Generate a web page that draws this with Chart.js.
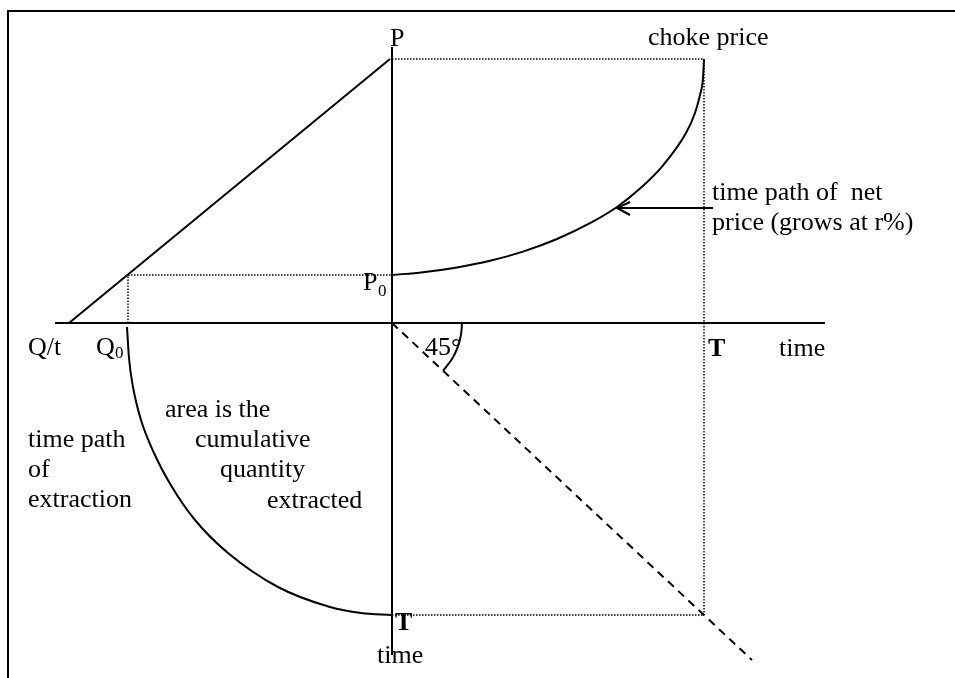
<!DOCTYPE html>
<html>
<head>
<meta charset="utf-8">
<script src="https://cdn.jsdelivr.net/npm/chart.js@4/dist/chart.umd.min.js"></script>
<style>
  html, body { margin: 0; padding: 0; background: #fff; }
  #wrap { position: relative; width: 955px; height: 678px; overflow: hidden; }
  #frame { position: absolute; left: 7px; top: 10px; width: 2000px; height: 2000px;
           border-left: 2px solid #000; border-top: 2px solid #000; box-sizing: border-box; }
  canvas { position: absolute; left: 0; top: 0; }
</style>
</head>
<body>
<div id="wrap">
  <div id="frame"></div>
  <canvas id="c" width="955" height="678"></canvas>
</div>
<script>
// ---- data (origin = intersection of the two axes; x to the right, y up) ----
const axisHX = [-337, 433];          const axisHY = [0, 0];
const axisVX = [0, 0];               const axisVY = [276, -332];
const demandX = [-323, -2];          const demandY = [0, 264];
const chokeDotX = [0, 312];          const chokeDotY = [264, 264];
const p0DotX = [-264, 0];            const p0DotY = [48, 48];
const q0DotX = [-264, -264];         const q0DotY = [0, 48];
const tDotVX = [312, 312];           const tDotVY = [264, -292];
const tDotHX = [0, 312];             const tDotHY = [-292, -292];
const diagX = [0, 360];              const diagY = [0, -337];
const priceX = [0, 31, 65, 98, 131, 165, 198, 225, 248, 270, 294, 303, 308, 311, 312];
const priceY = [48, 50.8, 55.6, 62.2, 71.4, 84, 99.8, 116, 134.4, 156.4, 190, 210, 228, 245, 264];
const extractX = [-265, -263, -259, -251, -238, -220, -197, -164, -114, -62, -31, 0];
const extractY = [-4, -35, -64, -97, -130, -164, -197, -230, -264, -284, -290, -292];
const arcX = [70, 68.9, 65.8, 60.6, 51.2];
const arcY = [0, -12.2, -23.9, -35, -47.7];
const arrowX = [321, 225];           const arrowY = [115, 115];
const headX = [238, 225, 238];       const headY = [121, 115, 108];

// ---- labels ----
const labelText = ["P", "choke price", "time path of  net", "price (grows at r%)", "P", "0",
  "Q/t", "Q", "0", "45°", "T", "time", "time path", "of", "extraction",
  "area is the", "cumulative", "quantity", "extracted", "T", "time"];
const labelX = [-2, 256, 320, 320, -29, -14, -364, -296, -277, 33, 316, 387, -364, -364, -364,
  -227, -197, -172, -125, 3, -15];
const labelY = [277, 278, 123, 93, 33, 27, -32, -32, -35, -32, -33, -33, -124, -154, -184,
  -94, -124, -154, -185, -307, -340];
const labelSub = [0,0,0,0,0,1,0,0,1,0,0,0,0,0,0,0,0,0,0,0,0];
const labelBold = [0,0,0,0,0,0,0,0,0,0,1,0,0,0,0,0,0,0,0,1,0];

const zip = (xs, ys) => xs.map((x, i) => ({ x: x, y: ys[i] }));
const solid = (xs, ys, w) => ({ data: zip(xs, ys), borderColor: '#000', borderWidth: w,
  showLine: true, pointRadius: 0, tension: 0, fill: false });
const curve = (xs, ys, w) => Object.assign(solid(xs, ys, w), { cubicInterpolationMode: 'monotone' });
const dotted = (xs, ys) => Object.assign(solid(xs, ys, 1.5), { borderDash: [1.5, 1.5] });

const labelsPlugin = {
  id: 'labels',
  afterDatasetsDraw(chart) {
    const ctx = chart.ctx, sx = chart.scales.x, sy = chart.scales.y;
    ctx.save();
    ctx.fillStyle = '#000';
    ctx.textBaseline = 'alphabetic';
    ctx.textAlign = 'left';
    labelText.forEach((t, i) => {
      const size = labelSub[i] ? 17 : 26;
      ctx.font = (labelBold[i] ? 'bold ' : '') + size + 'px "Liberation Serif", "Times New Roman", serif';
      ctx.fillText(t, sx.getPixelForValue(labelX[i]), sy.getPixelForValue(labelY[i]));
    });
    ctx.restore();
  }
};

new Chart(document.getElementById('c'), {
  type: 'scatter',
  data: {
    datasets: [
      solid(axisHX, axisHY, 2),
      solid(axisVX, axisVY, 2),
      solid(demandX, demandY, 2),
      dotted(chokeDotX, chokeDotY),
      dotted(p0DotX, p0DotY),
      dotted(q0DotX, q0DotY),
      dotted(tDotVX, tDotVY),
      dotted(tDotHX, tDotHY),
      Object.assign(solid(diagX, diagY, 2), { borderDash: [8, 6] }),
      curve(priceX, priceY, 2),
      curve(extractX, extractY, 2),
      Object.assign(solid(arcX, arcY, 2), { tension: 0.4 }),
      solid(arrowX, arrowY, 2),
      solid(headX, headY, 2)
    ]
  },
  options: {
    responsive: false,
    animation: false,
    layout: { padding: 0 },
    plugins: { legend: { display: false }, tooltip: { enabled: false } },
    scales: {
      x: { type: 'linear', min: -392, max: 563, display: false },
      y: { type: 'linear', min: -355, max: 323, display: false }
    }
  },
  plugins: [labelsPlugin]
});
</script>
</body>
</html>
